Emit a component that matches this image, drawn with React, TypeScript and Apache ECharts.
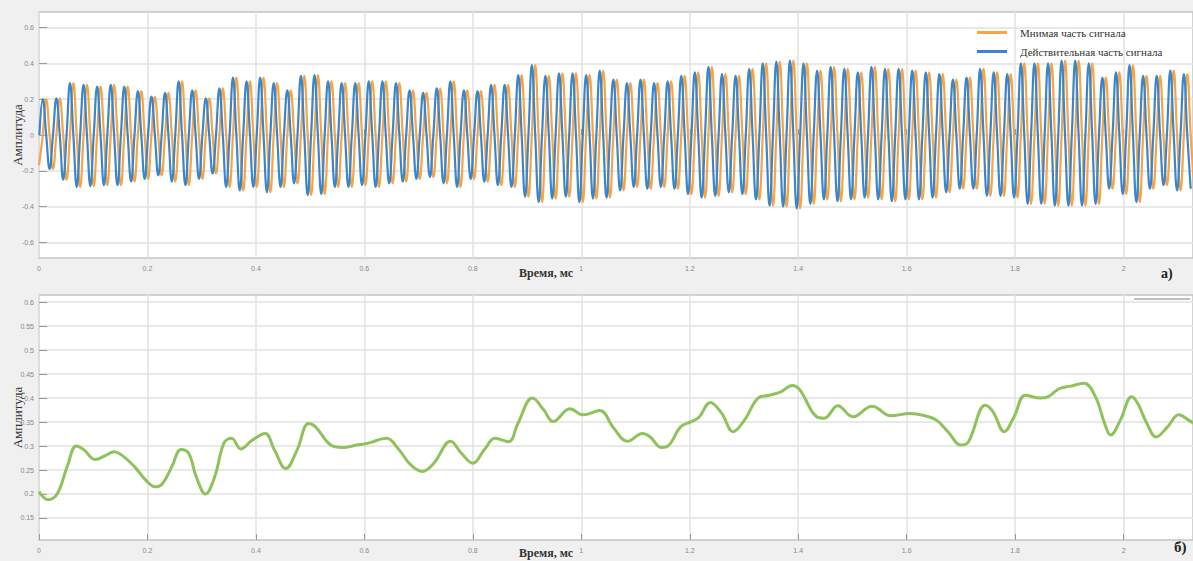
import React, { useEffect, useRef } from "react";
import * as echarts from "echarts";

// Per-cycle timing of the oscillation
const PERIOD = 0.02505;
const PHASE = 0.007;

// Peak / trough values per cycle
const realPeaks = [
  0.2, 0.205, 0.29, 0.28, 0.27, 0.28, 0.27, 0.245, 0.215, 0.235, 0.3, 0.25, 0.205, 0.26, 0.32, 0.3, 0.32, 0.29, 0.25, 0.33,
  0.335, 0.3, 0.29, 0.29, 0.3, 0.3, 0.29, 0.25, 0.235, 0.26, 0.3, 0.25, 0.245, 0.28, 0.28, 0.335, 0.39, 0.33, 0.345, 0.345,
  0.335, 0.36, 0.31, 0.29, 0.31, 0.29, 0.3, 0.33, 0.35, 0.38, 0.34, 0.33, 0.37, 0.4, 0.41, 0.415, 0.4, 0.36, 0.38, 0.37,
  0.35, 0.38, 0.37, 0.37, 0.36, 0.35, 0.34, 0.31, 0.32, 0.37, 0.35, 0.34, 0.4, 0.4, 0.4, 0.415, 0.415, 0.4, 0.32, 0.35,
  0.39, 0.33, 0.33, 0.36, 0.34,
];
const realTroughs = [
  -0.19, -0.25, -0.29, -0.285, -0.28, -0.28, -0.26, -0.245, -0.225, -0.26, -0.28, -0.245, -0.215, -0.29, -0.31, -0.29, -0.32, -0.29, -0.27, -0.335,
  -0.33, -0.29, -0.29, -0.28, -0.29, -0.27, -0.26, -0.245, -0.235, -0.27, -0.29, -0.245, -0.26, -0.28, -0.29, -0.345, -0.375, -0.355, -0.345, -0.375,
  -0.355, -0.35, -0.31, -0.29, -0.3, -0.29, -0.3, -0.33, -0.35, -0.34, -0.32, -0.33, -0.36, -0.395, -0.4, -0.41, -0.385, -0.36, -0.37, -0.36,
  -0.35, -0.36, -0.37, -0.36, -0.36, -0.35, -0.32, -0.3, -0.3, -0.34, -0.34, -0.35, -0.385, -0.385, -0.395, -0.395, -0.395, -0.385, -0.3, -0.33,
  -0.375, -0.3, -0.28, -0.31, -0.3,
];
const imagStart = -0.17;

// Envelope (lower panel)
const envT = [
  0, 0.017, 0.034, 0.052, 0.069, 0.083, 0.103, 0.124, 0.138, 0.155, 0.176, 0.197, 0.214, 0.228, 0.245, 0.262, 0.276, 0.29, 0.307, 0.324,
  0.341, 0.355, 0.372, 0.393, 0.417, 0.434, 0.455, 0.476, 0.497, 0.51, 0.538, 0.559, 0.586, 0.607, 0.641, 0.662, 0.686, 0.707, 0.728, 0.759,
  0.779, 0.8, 0.821, 0.841, 0.866, 0.883, 0.91, 0.931, 0.948, 0.979, 1.003, 1.034, 1.06, 1.085, 1.113, 1.127, 1.148, 1.162, 1.183, 1.203,
  1.217, 1.238, 1.259, 1.28, 1.301, 1.326, 1.347, 1.368, 1.389, 1.403, 1.434, 1.448, 1.473, 1.501, 1.536, 1.571, 1.606, 1.634, 1.655, 1.676,
  1.7, 1.714, 1.745, 1.759, 1.78, 1.798, 1.819, 1.847, 1.861, 1.882, 1.903, 1.927, 1.948, 1.966, 1.976, 1.994, 2.015, 2.026, 2.043, 2.06,
  2.081, 2.102, 2.12, 2.13,
];
const envV = [
  0.205, 0.188, 0.201, 0.257, 0.3, 0.292, 0.272, 0.281, 0.288, 0.279, 0.257, 0.229, 0.215, 0.222, 0.257, 0.293, 0.285, 0.236, 0.2, 0.236,
  0.306, 0.316, 0.294, 0.312, 0.326, 0.292, 0.253, 0.292, 0.347, 0.34, 0.302, 0.297, 0.302, 0.306, 0.316, 0.295, 0.26, 0.247, 0.264, 0.31,
  0.285, 0.264, 0.292, 0.316, 0.309, 0.347, 0.4, 0.375, 0.351, 0.378, 0.365, 0.374, 0.337, 0.31, 0.326, 0.319, 0.297, 0.302, 0.34, 0.351,
  0.36, 0.391, 0.368, 0.33, 0.354, 0.4, 0.406, 0.413, 0.426, 0.417, 0.361, 0.358, 0.384, 0.361, 0.383, 0.363, 0.368, 0.363, 0.354, 0.33,
  0.302, 0.309, 0.385, 0.372, 0.33, 0.361, 0.406, 0.4, 0.403, 0.42, 0.425, 0.431, 0.403, 0.344, 0.323, 0.354, 0.403, 0.389, 0.347, 0.319,
  0.34, 0.365, 0.354, 0.347,
];

const xTicks = [0, 0.2, 0.4, 0.6, 0.8, 1, 1.2, 1.4, 1.6, 1.8, 2];
const topYTicks = [-0.6, -0.4, -0.2, 0, 0.2, 0.4, 0.6];
const botYTicks = [0.15, 0.2, 0.25, 0.3, 0.35, 0.4, 0.45, 0.5, 0.55, 0.6];

const legendNames = ["Мнимая часть сигнала", "Действительная часть сигнала"];

function buildReal() {
  const pts: number[][] = [];
  realPeaks.forEach((p, k) => {
    const t = PHASE + k * PERIOD;
    pts.push([t - PERIOD / 4, 0]);
    pts.push([t, p]);
    pts.push([t + PERIOD / 4, 0]);
    pts.push([t + PERIOD / 2, realTroughs[k]]);
  });
  return pts;
}
function buildImag() {
  const pts: number[][] = [[0, imagStart]];
  realPeaks.forEach((p, k) => {
    const t = PHASE + k * PERIOD;
    pts.push([t, 0]);
    pts.push([t + PERIOD / 4, p]);
    pts.push([t + PERIOD / 2, 0]);
    pts.push([t + (3 * PERIOD) / 4, realTroughs[k]]);
  });
  return pts;
}

const serif = "'Liberation Serif', 'DejaVu Serif', serif";

export default function App() {
  const ref = useRef<HTMLDivElement>(null);
  useEffect(() => {
    if (!ref.current) return;
    const chart = echarts.init(ref.current, null, { renderer: "svg" });
    const gridLine = { show: true, lineStyle: { color: "#e2e2e2", width: 1.5 } };
    const xAxisBase = (gridIndex: number) => ({
      type: "value",
      gridIndex,
      min: 0,
      max: 2.128,
      axisLine: { show: false },
      axisTick: { show: true, inside: true, length: 6, lineStyle: { color: "#999" }, customValues: xTicks },
      axisLabel: {
        show: true,
        customValues: xTicks,
        fontSize: 7,
        color: "#888",
        margin: 7,
        formatter: (v: number) => String(v),
      },
      splitLine: gridLine,
    });
    const yName = {
      name: "Амплитуда",
      nameLocation: "middle",
      nameGap: 15,
      nameMoveOverlap: false,
      nameTextStyle: { fontFamily: serif, fontSize: 13, color: "#333" },
    };
    const option: any = {
      animation: false,
      backgroundColor: "#f0f0f0",
      grid: [
        { left: 39, top: 12, width: 1154, height: 246, show: true, backgroundColor: "#fff", borderColor: "#c4c4c4", borderWidth: 1.5, outerBoundsMode: "none", containLabel: false },
        { left: 39, top: 295, width: 1154, height: 245, show: true, backgroundColor: "#fff", borderColor: "#c4c4c4", borderWidth: 1.5, outerBoundsMode: "none", containLabel: false },
      ],
      legend: {
        data: legendNames,
        orient: "vertical",
        left: 972,
        top: 22,
        itemWidth: 30,
        itemHeight: 3,
        itemGap: 8,
        icon: "rect",
        textStyle: { fontFamily: serif, fontSize: 11, color: "#333", padding: [0, 0, 0, 8] },
      },
      xAxis: [xAxisBase(0), xAxisBase(1)],
      yAxis: [
        {
          type: "value",
          gridIndex: 0,
          min: -0.687,
          max: 0.687,
          axisLine: { show: false },
          axisTick: { show: true, inside: true, length: 8, lineStyle: { color: "#999" }, customValues: topYTicks },
          axisLabel: { customValues: topYTicks, fontSize: 7, color: "#888", margin: 5, formatter: (v: number) => String(v) },
          splitLine: gridLine,
          ...yName,
        },
        {
          type: "value",
          gridIndex: 1,
          min: 0.104,
          max: 0.615,
          axisLine: { show: false },
          axisTick: { show: true, inside: true, length: 8, lineStyle: { color: "#999" }, customValues: botYTicks },
          axisLabel: { customValues: botYTicks, fontSize: 7, color: "#888", margin: 5, formatter: (v: number) => String(v) },
          splitLine: gridLine,
          ...yName,
        },
      ],
      series: [
        {
          name: legendNames[0],
          type: "line",
          xAxisIndex: 0,
          yAxisIndex: 0,
          data: buildImag(),
          smooth: 0.45,
          showSymbol: false,
          color: "#f6a445",
          lineStyle: { width: 2.2, color: "#f6a445" },
          clip: true,
        },
        {
          name: legendNames[1],
          type: "line",
          xAxisIndex: 0,
          yAxisIndex: 0,
          data: buildReal(),
          smooth: 0.45,
          showSymbol: false,
          color: "#3a86cc",
          lineStyle: { width: 2.2, color: "#3a86cc" },
          clip: true,
        },
        {
          name: "Огибающая",
          type: "line",
          xAxisIndex: 1,
          yAxisIndex: 1,
          data: envT.map((t, i) => [t, envV[i]]),
          smooth: 0.4,
          showSymbol: false,
          color: "#8dc35a",
          lineStyle: { width: 3, color: "#8dc35a" },
          clip: true,
        },
      ],
      graphic: [
        { type: "text", left: 519, top: 267, style: { text: "Время, мс", font: `bold 12px ${serif}`, fill: "#333" } },
        { type: "text", left: 1161, top: 266, style: { text: "а)", font: `bold 14px ${serif}`, fill: "#222" } },
        { type: "text", left: 519, top: 547, style: { text: "Время, мс", font: `bold 12px ${serif}`, fill: "#333" } },
        { type: "text", left: 1174, top: 539, style: { text: "б)", font: `bold 15px ${serif}`, fill: "#222" } },
        { type: "line", shape: { x1: 1134, y1: 299, x2: 1190, y2: 299 }, style: { stroke: "#aaa", lineWidth: 1.5 } },
      ],
    };
    chart.setOption(option);
    return () => chart.dispose();
  }, []);
  return (
    <div
      ref={ref}
      style={{ position: "absolute", left: 0, top: 0, width: 1193, height: 561, background: "#f0f0f0" }}
    />
  );
}
